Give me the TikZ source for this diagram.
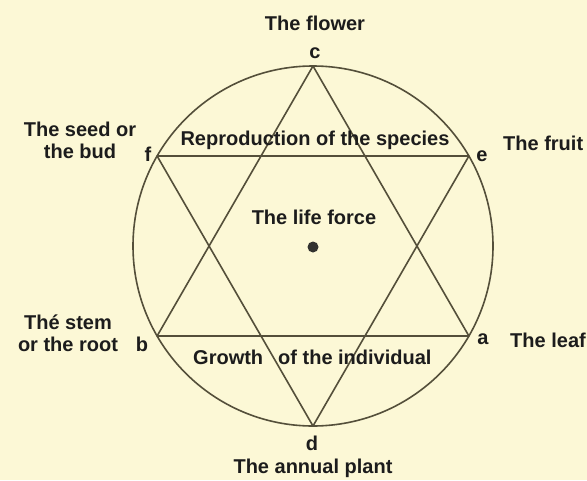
\documentclass[tikz,border=0pt]{standalone}
\usepackage{fontspec}
\setmainfont{Liberation Sans}
\definecolor{paper}{HTML}{FCF8D6}
\definecolor{lineink}{HTML}{544F3A}
\definecolor{textink}{HTML}{1C1C1C}
\begin{document}
\begin{tikzpicture}[x=1pt,y=-1pt,
  lab/.style={font=\fontsize{20}{22}\selectfont\bfseries, inner sep=0pt, text=textink, align=center},
  pt/.style={font=\fontsize{20}{22}\selectfont\bfseries, inner sep=0pt, text=textink},
  edge/.style={draw=lineink, line width=1.6pt, line cap=round, line join=round}]
\fill[paper] (0,0) rectangle (587,480);
\useasboundingbox (0,0) rectangle (587,480);
% geometry
\coordinate (O) at (313,246);
\coordinate (c) at (313,66);
\coordinate (d) at (313,426);
\coordinate (f) at (157.1,156);
\coordinate (e) at (468.9,156);
\coordinate (b) at (157.1,336);
\coordinate (a) at (468.9,336);
\node[circle, draw=lineink, line width=1.6pt, minimum size=360pt, inner sep=0pt] (ring) at (O) {};
\draw[edge] (c) -- (b) -- (a) -- cycle;
\draw[edge] (d) -- (f) -- (e) -- cycle;
\fill[textink!90!paper] (313,247) circle (5.5);
% point letters
\node[pt] (lc) at (315,53) {c};
\node[pt] (ld) at (312,443) {d};
\node[pt] (lf) at (148,154) {f};
\node[pt] (le) at (482,156) {e};
\node[pt] (lb) at (142,344) {b};
\node[pt] (la) at (483,339) {a};
% labels
\node[lab] (flower) at (315,23) {The flower};
\node[lab] (seed) at (80,140) {The seed or\\the bud};
\node[lab, anchor=west] (fruit) at (503,143) {The fruit};
\node[lab] (stem) at (68,333) {Thé stem\\or the root};
\node[lab, anchor=east] (leaf) at (586,340) {The leaf};
\node[lab] (annual) at (313,468) {The annual plant};
\node[lab] (repro) at (315,140) {Reproduction of the species};
\node[lab] (life) at (314,217) {The life force};
\node[lab, anchor=west] (growth) at (193,357) {Growth};
\node[lab, anchor=west] (indiv) at (278,357) {of the individual};
\end{tikzpicture}
\end{document}
